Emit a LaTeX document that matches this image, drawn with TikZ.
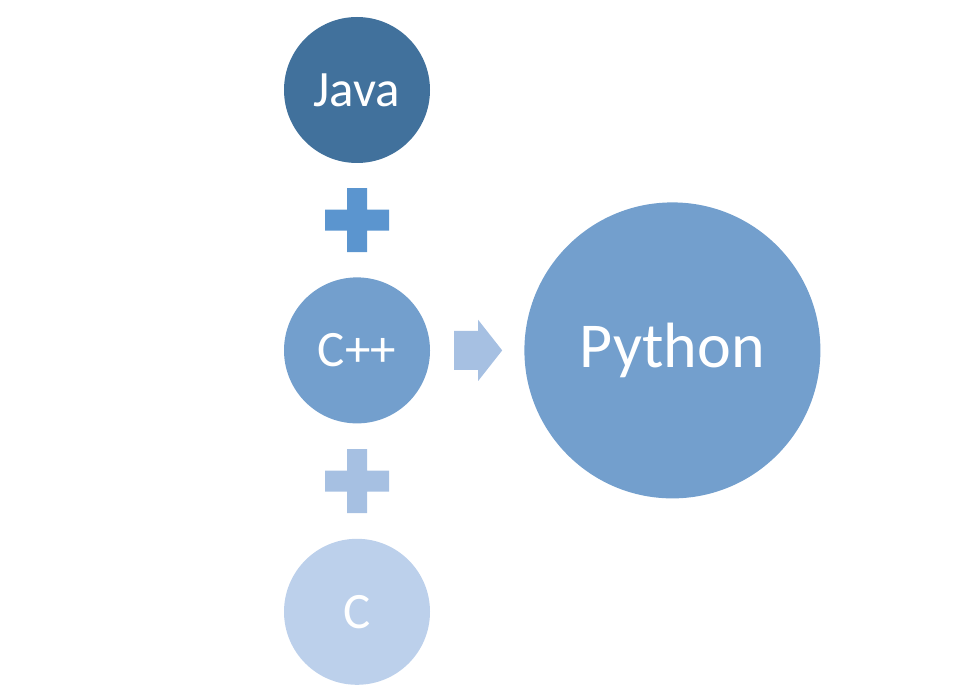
\documentclass[tikz,border=0pt]{standalone}
\usepackage{fontspec}
\setmainfont{Carlito}
\usetikzlibrary{positioning, calc}

\definecolor{javablue}{HTML}{41719C}
\definecolor{cppblue}{HTML}{739FCD}
\definecolor{cblue}{HTML}{BCD0EB}
\definecolor{plusdark}{HTML}{5B95CF}
\definecolor{pluslight}{HTML}{A6C0E2}

\begin{document}
\begin{tikzpicture}[
    x=1pt, y=-1pt,
    node distance=114pt and 94pt,
    lang/.style={circle, inner sep=0pt, minimum size=146pt, text=white, font=\fontsize{51}{51}\selectfont},
    big/.style={circle, inner sep=0pt, minimum size=296pt, text=white, font=\fontsize{64}{64}\selectfont, fill=cppblue},
    plussign/.style={fill=#1}
]
  \useasboundingbox (0,0) rectangle (980,700);

  \node[lang, fill=javablue] (java) at (357,90) {Java};
  \node[lang, fill=cppblue, below=of java] (cpp) {C++};
  \node[lang, fill=cblue, below=115pt of cpp] (c) {C};
  \node[big, right=of cpp] (python) {Python};

  % plus signs between the small circles
  \coordinate (p1) at ($(java.south)!0.5!(cpp.north)$);
  \coordinate (p2) at ($(cpp.south)!0.5!(c.north)$);
  \fill[plussign=plusdark] ($(p1)+(-32,-10.5)$) rectangle ($(p1)+(32,10.5)$)
                           ($(p1)+(-10,-32)$) rectangle ($(p1)+(10,32)$);
  \fill[plussign=pluslight] ($(p2)+(-32,-10.5)$) rectangle ($(p2)+(32,10.5)$)
                            ($(p2)+(-10,-32)$) rectangle ($(p2)+(10,32)$);

  % block arrow from C++ to Python
  \coordinate (ar) at ($(cpp.east)!0.5!(python.west)$);
  \fill[pluslight] ($(ar)+(-23,-19.5)$) -- ($(ar)+(1,-19.5)$) -- ($(ar)+(1,-30.5)$)
    -- ($(ar)+(25,0)$) -- ($(ar)+(1,30.5)$) -- ($(ar)+(1,19.5)$)
    -- ($(ar)+(-23,19.5)$) -- cycle;
\end{tikzpicture}
\end{document}
